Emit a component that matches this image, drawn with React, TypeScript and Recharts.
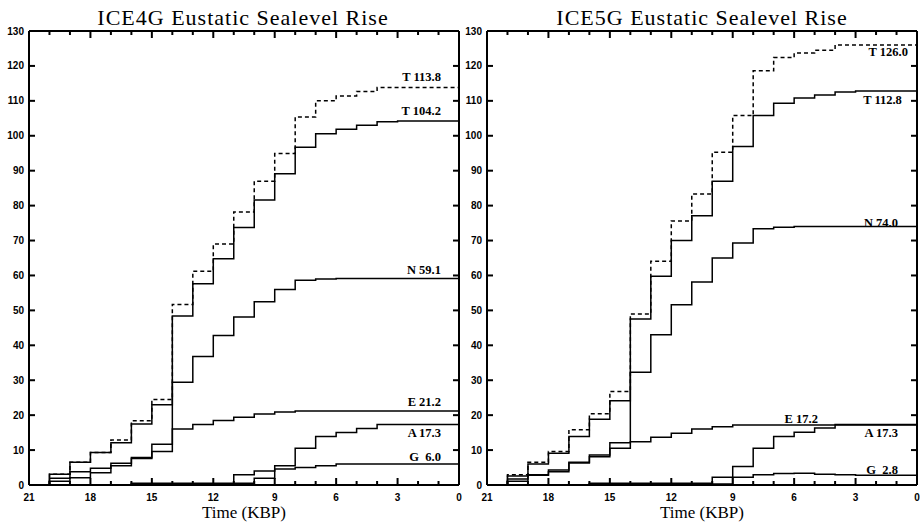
import React from 'react';
import { ComposedChart, Line, Scatter, XAxis, YAxis, ReferenceDot } from 'recharts';

// time in KBP, one value per 1 kyr step (value holds until the next step)
const times = [21, 20, 19, 18, 17, 16, 15, 14, 13, 12, 11, 10, 9, 8, 7, 6, 5, 4, 3, 2, 1, 0];
const yTicks = [0, 10, 20, 30, 40, 50, 60, 70, 80, 90, 100, 110, 120, 130];

// ICE4G
const ice4gTotalDashed = [0, 3.1, 6.5, 9.3, 12.9, 18.4, 24.5, 51.7, 61.2, 69.0, 78.2, 87.0, 94.9, 105.4, 110.0, 111.4, 112.7, 113.8, 113.8, 113.8, 113.8, 113.8];
const ice4gTotal = [0, 3.1, 6.5, 9.3, 12.1, 17.5, 23.0, 48.4, 57.6, 64.8, 73.7, 81.6, 89.1, 96.7, 100.6, 101.9, 103.0, 104.0, 104.2, 104.2, 104.2, 104.2];
const ice4gN = [0, 1.9, 3.8, 4.8, 6.2, 7.9, 11.7, 29.4, 36.8, 42.8, 48.1, 52.5, 56.0, 58.6, 59.0, 59.1, 59.1, 59.1, 59.1, 59.1, 59.1, 59.1];
const ice4gE = [0, 1.1, 2.1, 3.5, 5.5, 7.6, 9.6, 16.0, 17.3, 18.5, 19.4, 20.3, 20.9, 21.2, 21.2, 21.2, 21.2, 21.2, 21.2, 21.2, 21.2, 21.2];
const ice4gA = [0, 0, 0, 0, 0, 0.3, 0.3, 0.3, 0.3, 0.3, 2.9, 4.0, 5.5, 10.5, 13.9, 15.0, 16.2, 17.3, 17.3, 17.3, 17.3, 17.3];
const ice4gG = [0, 0, 0, 0, 0, 0.5, 0.5, 0.5, 0.5, 0.5, 0.5, 1.9, 4.6, 5.0, 5.5, 6.0, 6.0, 6.0, 6.0, 6.0, 6.0, 6.0];

// ICE5G
const ice5gTotalDashed = [0, 2.9, 6.5, 9.6, 15.8, 20.4, 26.8, 49.0, 64.1, 75.6, 83.3, 95.3, 105.8, 118.6, 122.4, 123.7, 124.5, 126.0, 126.0, 126.0, 126.0, 126.0];
const ice5gTotal = [0, 2.6, 6.0, 9.1, 13.9, 18.8, 24.1, 47.5, 59.8, 70.0, 77.1, 87.0, 96.9, 105.8, 109.3, 110.8, 111.7, 112.5, 112.8, 112.8, 112.8, 112.8];
const ice5gN = [0, 1.7, 2.9, 4.3, 6.5, 8.6, 10.5, 32.3, 43.0, 51.6, 58.1, 65.0, 69.3, 73.4, 73.8, 74.0, 74.0, 74.0, 74.0, 74.0, 74.0, 74.0];
const ice5gE = [0, 1.1, 2.8, 3.8, 6.3, 8.1, 12.1, 12.4, 13.7, 14.8, 16.0, 16.7, 17.2, 17.2, 17.2, 17.2, 17.2, 17.2, 17.2, 17.2, 17.2, 17.2];
const ice5gA = [0, 0, 0, 0, 0, 0.3, 0.3, 0.3, 0.3, 0.3, 0.3, 0.3, 5.3, 10.5, 13.9, 15.1, 16.3, 17.3, 17.3, 17.3, 17.3, 17.3];
const ice5gG = [0, 0, 0, 0, 0, 0.5, 0.5, 0.5, 0.5, 0.5, 0.5, 2.2, 2.2, 2.9, 3.3, 3.4, 3.1, 2.9, 2.8, 2.8, 2.8, 2.8];

const ice4gData = times.map((t, i) => ({
  t, Td: ice4gTotalDashed[i], T: ice4gTotal[i], N: ice4gN[i], E: ice4gE[i], A: ice4gA[i], G: ice4gG[i],
}));
const ice5gData = times.map((t, i) => ({
  t, Td: ice5gTotalDashed[i], T: ice5gTotal[i], N: ice5gN[i], E: ice5gE[i], A: ice5gA[i], G: ice5gG[i],
}));

// frame tick positions (drawn inward by a custom scatter shape)
const bottomTicks = times.map((t) => ({ t, v: 0, dir: 'up' }));
const topTicks = times.map((t) => ({ t, v: 130, dir: 'down' }));
const leftTicks = yTicks.map((v) => ({ t: 21, v, dir: 'right' }));
const rightTicks = yTicks.map((v) => ({ t: 0, v, dir: 'left' }));
const frameTicks = [...bottomTicks, ...topTicks, ...leftTicks, ...rightTicks];

// end labels: [text, value, x anchor (KBP), baseline offset]
const ice4gLabels: [string, number, number, number][] = [
  ['T 113.8', 113.8, 0.88, -7],
  ['T 104.2', 104.2, 0.88, -6],
  ['N 59.1', 59.1, 0.88, -5],
  ['E 21.2', 21.2, 0.88, -5],
  ['A 17.3', 17.3, 0.88, 12],
  ['G  6.0', 6.0, 0.88, -3],
];
const ice5gLabels: [string, number, number, number][] = [
  ['T 126.0', 126.0, 0.44, 11],
  ['T 112.8', 112.8, 0.74, 13],
  ['N 74.0', 74.0, 0.93, 0],
  ['E 17.2', 17.2, 4.84, -2],
  ['A 17.3', 17.3, 0.93, 12],
  ['G  2.8', 2.8, 0.93, -1],
];

const tickFont = '"Liberation Sans", Arial, sans-serif';
const serif = '"Liberation Serif", "Times New Roman", serif';

const TickShape = (props: any) => {
  const { cx, cy, payload } = props;
  if (cx == null || cy == null || !payload) return <g />;
  const major = payload.t % 3 === 0;
  const len = payload.dir === 'up' || payload.dir === 'down' ? (major ? 7 : 4) : 6;
  let d = '';
  if (payload.dir === 'up') d = `M${cx},${cy}L${cx},${cy - len}`;
  else if (payload.dir === 'down') d = `M${cx},${cy}L${cx},${cy + len}`;
  else if (payload.dir === 'right') d = `M${cx},${cy}L${cx + len},${cy}`;
  else d = `M${cx},${cy}L${cx - len},${cy}`;
  return <path d={d} stroke="#000" strokeWidth={2} fill="none" />;
};

const XTickLabel = (props: any) => {
  const { x, y, payload } = props;
  const v = Number(payload.value);
  if (v % 3 !== 0) return <g />;
  return (
    <text x={x} y={Number(y) + 16} textAnchor="middle" fontFamily={tickFont} fontWeight="bold" fontSize={10} fill="#000">
      {v}
    </text>
  );
};

const YTickLabel = (props: any) => {
  const { x, y, payload } = props;
  return (
    <text x={Number(x) - 5} y={Number(y) + 3.5} textAnchor="end" fontFamily={tickFont} fontWeight="bold" fontSize={10} fill="#000">
      {payload.value}
    </text>
  );
};

const EndLabel = (props: any) => {
  const { viewBox, text, dy } = props;
  const cx = viewBox.x + viewBox.width / 2;
  const cy = viewBox.y + viewBox.height / 2;
  return (
    <text x={cx} y={cy + dy} textAnchor="end" fontFamily={serif} fontWeight="bold" fontSize={12.5} fill="#000" style={{ whiteSpace: 'pre' }}>
      {text}
    </text>
  );
};

function Panel({ data, labels, width, yWidth, marginRight }: any) {
  const axisLine = { stroke: '#000', strokeWidth: 2 };
  return (
    <ComposedChart width={width} height={527} data={data} margin={{ top: 0, right: marginRight, bottom: 0, left: 0 }}>
      <XAxis dataKey="t" type="number" domain={[0, 21]} reversed ticks={times} interval={0} allowDataOverflow
        height={42} tickLine={false} tickSize={0} tickMargin={0} axisLine={axisLine} tick={<XTickLabel />} />
      <XAxis xAxisId="top" orientation="top" dataKey="t" type="number" domain={[0, 21]} reversed ticks={times} interval={0}
        height={31} tickLine={false} tick={false} axisLine={axisLine} />
      <YAxis type="number" domain={[0, 130]} ticks={yTicks} interval={0} width={yWidth} allowDataOverflow
        tickLine={false} tickSize={0} tickMargin={0} axisLine={axisLine} tick={<YTickLabel />} />
      <YAxis yAxisId="right" orientation="right" type="number" domain={[0, 130]} ticks={yTicks} interval={0} width={1}
        tickLine={false} tick={false} axisLine={axisLine} />
      <Scatter data={frameTicks} dataKey="v" shape={<TickShape />} isAnimationActive={false} legendType="none" />
      <Line type="stepAfter" dataKey="Td" stroke="#000" strokeWidth={1.5} strokeDasharray="4 3" dot={false} isAnimationActive={false} />
      <Line type="stepAfter" dataKey="T" stroke="#000" strokeWidth={1.5} dot={false} isAnimationActive={false} />
      <Line type="stepAfter" dataKey="N" stroke="#000" strokeWidth={1.5} dot={false} isAnimationActive={false} />
      <Line type="stepAfter" dataKey="E" stroke="#000" strokeWidth={1.5} dot={false} isAnimationActive={false} />
      <Line type="stepAfter" dataKey="A" stroke="#000" strokeWidth={1.5} dot={false} isAnimationActive={false} />
      <Line type="stepAfter" dataKey="G" stroke="#000" strokeWidth={1.5} dot={false} isAnimationActive={false} />
      {labels.map(([text, v, x, dy]: [string, number, number, number]) => (
        <ReferenceDot key={text} x={x} y={v} r={1} fill="none" stroke="none"
          label={<EndLabel text={text} dy={dy} />} />
      ))}
    </ComposedChart>
  );
}

export default function App() {
  return (
    <div style={{ position: 'absolute', left: 0, top: 0, width: 920, height: 527, background: '#fff' }}>
      <div style={{ position: 'absolute', left: 0, top: 0 }}>
        <Panel data={ice4gData} labels={ice4gLabels} width={464} yWidth={29} marginRight={4} />
      </div>
      <div style={{ position: 'absolute', left: 460, top: 0 }}>
        <Panel data={ice5gData} labels={ice5gLabels} width={460} yWidth={27} marginRight={2} />
      </div>
      <svg width={920} height={527} style={{ position: 'absolute', left: 0, top: 0, pointerEvents: 'none' }}>
        <text x={243} y={25} textAnchor="middle" fontFamily={serif} fontSize={22} letterSpacing={1} fill="#000">ICE4G Eustatic Sealevel Rise</text>
        <text x={702} y={25} textAnchor="middle" fontFamily={serif} fontSize={22} letterSpacing={1} fill="#000">ICE5G Eustatic Sealevel Rise</text>
        <text x={244} y={518} textAnchor="middle" fontFamily={serif} fontSize={17} fill="#000">Time (KBP)</text>
        <text x={702} y={518} textAnchor="middle" fontFamily={serif} fontSize={17} fill="#000">Time (KBP)</text>
      </svg>
    </div>
  );
}
